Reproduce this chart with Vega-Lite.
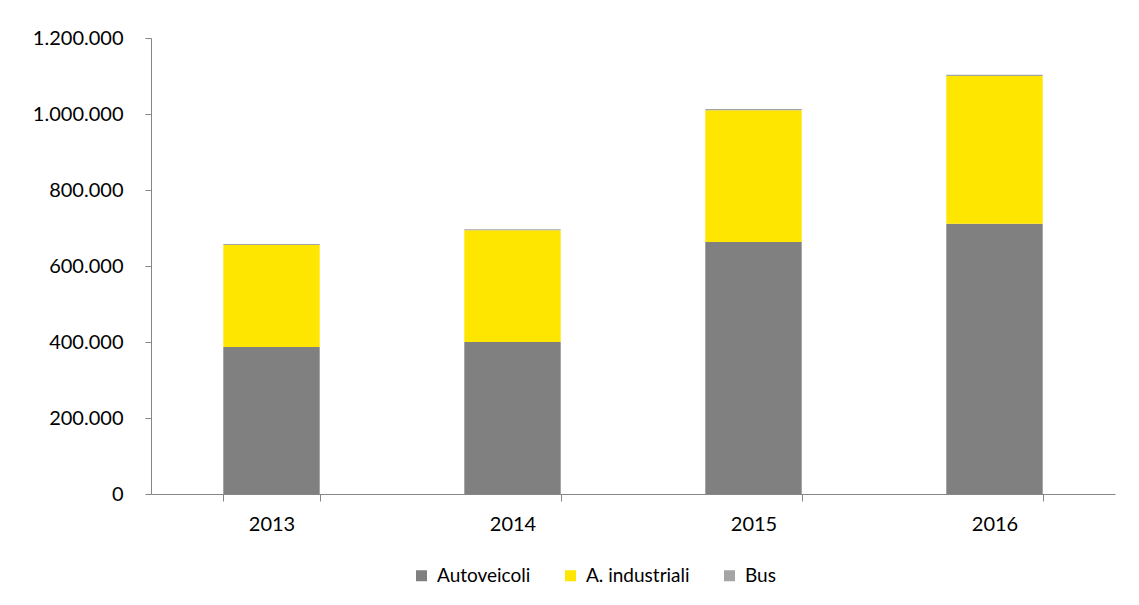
{
  "$schema": "https://vega.github.io/schema/vega-lite/v6.json",
  "autosize": "none",
  "width": 964,
  "height": 456,
  "padding": {"left": 151, "top": 38, "right": 24, "bottom": 111},
  "background": "white",
  "config": {
    "locale": {"number": {"decimal": ",", "thousands": ".", "grouping": [3], "currency": ["€", ""]}},
    "view": {"stroke": null},
    "font": "Lato"
  },
  "data": {
    "values": [
      {"anno": "2013", "tipo": "Autoveicoli", "ordine": 1, "valore": 387000},
      {"anno": "2013", "tipo": "A. industriali", "ordine": 2, "valore": 268000},
      {"anno": "2013", "tipo": "Bus", "ordine": 3, "valore": 3000},
      {"anno": "2014", "tipo": "Autoveicoli", "ordine": 1, "valore": 400000},
      {"anno": "2014", "tipo": "A. industriali", "ordine": 2, "valore": 294000},
      {"anno": "2014", "tipo": "Bus", "ordine": 3, "valore": 3000},
      {"anno": "2015", "tipo": "Autoveicoli", "ordine": 1, "valore": 663000},
      {"anno": "2015", "tipo": "A. industriali", "ordine": 2, "valore": 347000},
      {"anno": "2015", "tipo": "Bus", "ordine": 3, "valore": 3000},
      {"anno": "2016", "tipo": "Autoveicoli", "ordine": 1, "valore": 711000},
      {"anno": "2016", "tipo": "A. industriali", "ordine": 2, "valore": 389000},
      {"anno": "2016", "tipo": "Bus", "ordine": 3, "valore": 3000}
    ]
  },
  "mark": {"type": "bar"},
  "encoding": {
    "x": {
      "field": "anno", "type": "nominal",
      "scale": {"paddingInner": 0.6, "paddingOuter": 0.3},
      "axis": {
        "title": null, "labelAngle": 0, "tickBand": "extent",
        "domainColor": "#868686", "tickColor": "#868686", "tickSize": 7,
        "labelFontSize": 20, "labelColor": "#000000", "labelPadding": 13
      }
    },
    "y": {
      "field": "valore", "type": "quantitative", "stack": "zero",
      "scale": {"domain": [0, 1200000]},
      "axis": {
        "title": null, "values": [0, 200000, 400000, 600000, 800000, 1000000, 1200000],
        "format": ",d", "grid": false,
        "domainColor": "#868686", "tickColor": "#868686", "tickSize": 6,
        "labelFontSize": 20, "labelColor": "#000000", "labelPadding": 22
      }
    },
    "order": {"field": "ordine", "type": "quantitative", "sort": "ascending"},
    "color": {
      "field": "tipo", "type": "nominal",
      "sort": ["Autoveicoli", "A. industriali", "Bus"],
      "scale": {"domain": ["Autoveicoli", "A. industriali", "Bus"], "range": ["#808080", "#FFE600", "#A5A5A5"]},
      "legend": {
        "title": null, "orient": "none", "direction": "horizontal",
        "legendX": 261, "legendY": 528,
        "symbolType": "square", "symbolSize": 121, "symbolStrokeWidth": 0,
        "labelFontSize": 19, "labelColor": "#000000", "columnPadding": 30,
        "labelOffset": 6
      }
    }
  }
}
